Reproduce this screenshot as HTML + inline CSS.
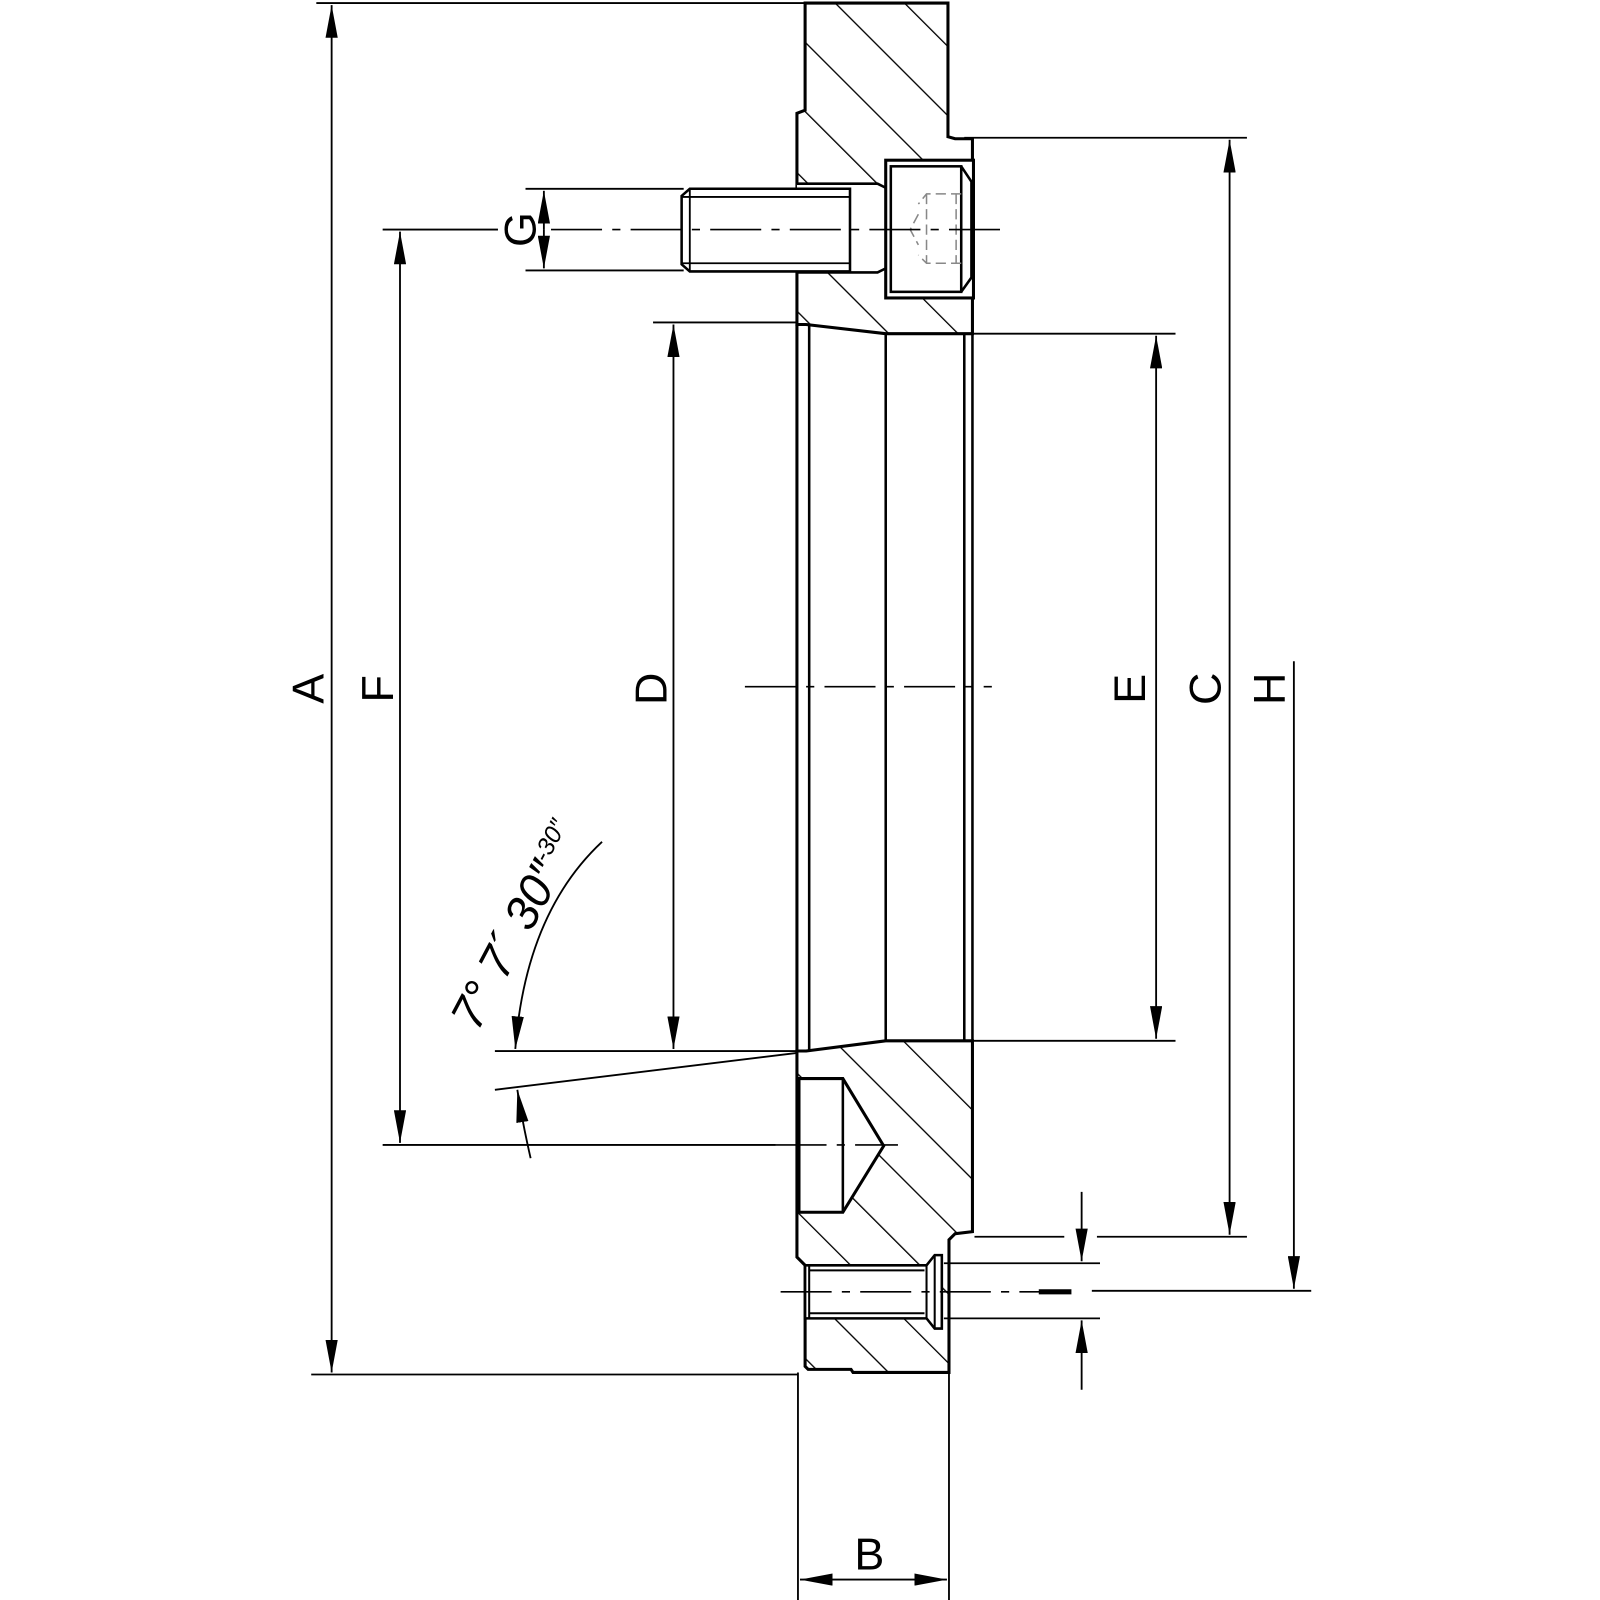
<!DOCTYPE html>
<html><head><meta charset="utf-8"><style>html,body{margin:0;padding:0;background:#fff}svg{display:block}</style></head>
<body>
<svg xmlns="http://www.w3.org/2000/svg" width="1600" height="1600" viewBox="0 0 1568 1568">
<defs>
<pattern id="h" patternUnits="userSpaceOnUse" width="48" height="48" patternTransform="rotate(-45)">
<line x1="0" y1="0" x2="0" y2="48" stroke="#000" stroke-width="2.6"/>
</pattern>
<marker id="ar" viewBox="0 0 32 12" refX="32" refY="6" markerWidth="32" markerHeight="12" markerUnits="userSpaceOnUse" orient="auto">
<path d="M0,0 L32,6 L0,12 z" fill="#000"/></marker>
<marker id="al" viewBox="0 0 32 12" refX="0" refY="6" markerWidth="32" markerHeight="12" markerUnits="userSpaceOnUse" orient="auto">
<path d="M32,0 L0,6 L32,12 z" fill="#000"/></marker>
</defs>
<rect width="1568" height="1568" fill="#fff"/>
<g stroke="#000" fill="none">
<path d="M789,3 L929,3 L929,134 L936,136 L953,136 L953,327 L868,327 L790,318 L781,318 L781,111 L789,108 Z" fill="url(#h)" stroke-width="3"/>
<path d="M790,1030 L868,1020 L953,1020 L953,1207 L936,1209 L930,1215 L930,1345 L836,1345 L834,1342 L792,1342 L789,1339 L789,1240 L781,1232 L781,1030 Z" fill="url(#h)" stroke-width="3"/>
<rect x="781" y="180" width="89" height="87" fill="#fff" stroke="none"/>
<rect x="868" y="157" width="86" height="135" fill="#fff" stroke-width="3"/>
<rect x="873" y="163" width="69" height="123" stroke-width="2.5"/>
<path d="M942,163 L952,178 L952,272 L942,286" stroke-width="2.5"/>
<path d="M781,180 L860,180 L868,184 M781,267 L860,267 L868,263" stroke-width="2.5"/>
<path d="M668,192 L676,185 L833,185 L833,266 L676,266 L668,259 Z" fill="#fff" stroke-width="2.5"/>
<path d="M676,185 L676,266 M668,193 L833,193 M668,258 L833,258" stroke-width="1.8"/>
<g stroke="#888" stroke-width="1.5" stroke-dasharray="10,5">
<path d="M942,190 L908,190 L900,200 M942,258 L908,258 L900,250 M908,190 L908,258 M900,210 L892,225 L900,240 M937,190 L937,258"/>
</g>
<path d="M793,318 L793,1030 M868,327 L868,1020 M945,327 L945,1020 M953,327 L953,1020" stroke-width="2.5"/>
<path d="M781,318 L781,1030" stroke-width="3"/>
<path d="M783,1057 L826,1057 L866,1123 L826,1188 L783,1188 Z" fill="#fff" stroke-width="3"/>
<path d="M826,1057 L826,1188" stroke-width="2.5"/>
<path d="M789,1240 L908,1240 L916,1230 L923,1230 L923,1302 L916,1302 L908,1292 L789,1292 Z" fill="#fff" stroke-width="2.5"/>
<path d="M793,1245 L906,1245 M793,1287 L906,1287 M908,1240 L908,1292 M916,1230 L916,1302 M793,1240 L793,1292" stroke-width="2"/>
</g>
<g stroke="#000" stroke-width="1.6" stroke-dasharray="50,10,8,10" fill="none">
<path d="M730,673 L972,673"/>
<path d="M540,225 L980,225"/>
<path d="M765,1266 L1045,1266"/>
<path d="M760,1122 L880,1122"/>
</g>
<g stroke="#000" stroke-width="1.8" fill="none">
<path d="M310,3 L790,3 M305,1347 L782,1347"/>
<path d="M325,5 L325,1345" marker-start="url(#al)" marker-end="url(#ar)"/>
<path d="M375,225 L488,225 M375,1122 L760,1122"/>
<path d="M392,227 L392,1120" marker-start="url(#al)" marker-end="url(#ar)"/>
<path d="M640,316 L780,316 M485,1030 L780,1030"/>
<path d="M660,318 L660,1028" marker-start="url(#al)" marker-end="url(#ar)"/>
<path d="M485,1068 L780,1032"/>
<path d="M950,327 L1152,327 M950,1020 L1152,1020"/>
<path d="M1133,329 L1133,1018" marker-start="url(#al)" marker-end="url(#ar)"/>
<path d="M945,135 L1222,135 M1075,1212 L1222,1212 M955,1212 L1043,1212"/>
<path d="M1205,137 L1205,1210" marker-start="url(#al)" marker-end="url(#ar)"/>
<path d="M1070,1265 L1285,1265"/>
<path d="M1268,648 L1268,1263" marker-end="url(#ar)"/>
<path d="M515,185 L670,185 M515,265 L670,265"/>
<path d="M533,225 L533,187" marker-end="url(#ar)"/>
<path d="M533,225 L533,263" marker-end="url(#ar)"/>
<path d="M925,1238 L1078,1238 M925,1292 L1078,1292"/>
<path d="M1060,1168 L1060,1236" marker-end="url(#ar)"/>
<path d="M1060,1362 L1060,1294" marker-end="url(#ar)"/>
<path d="M782,1345 L782,1568 M930,1345 L930,1568"/>
<path d="M784,1548 L928,1548" marker-start="url(#al)" marker-end="url(#ar)"/>
<path d="M590,825 Q515,895 505,1028" marker-end="url(#ar)"/>
<path d="M520,1135 Q512,1100 507,1068" marker-end="url(#ar)"/>
</g>
<path d="M1018,1266 L1050,1266" stroke="#000" stroke-width="5"/>
<g font-family="Liberation Sans, sans-serif" font-size="44" fill="#000" text-anchor="middle">
<text transform="translate(317,675) rotate(-90)">A</text>
<text transform="translate(385,675) rotate(-90)">F</text>
<text transform="translate(653,675) rotate(-90)">D</text>
<text transform="translate(1122,675) rotate(-90)">E</text>
<text transform="translate(1196,675) rotate(-90)">C</text>
<text transform="translate(1259,675) rotate(-90)">H</text>
<text transform="translate(525,225) rotate(-90)">G</text>
<text x="852" y="1538">B</text>
<text transform="translate(468,1012) rotate(-62)" font-size="46" font-style="italic" text-anchor="start">7° 7´ 30″<tspan font-size="24" dy="-18">-30″</tspan></text>
</g>
</svg>
</body></html>
